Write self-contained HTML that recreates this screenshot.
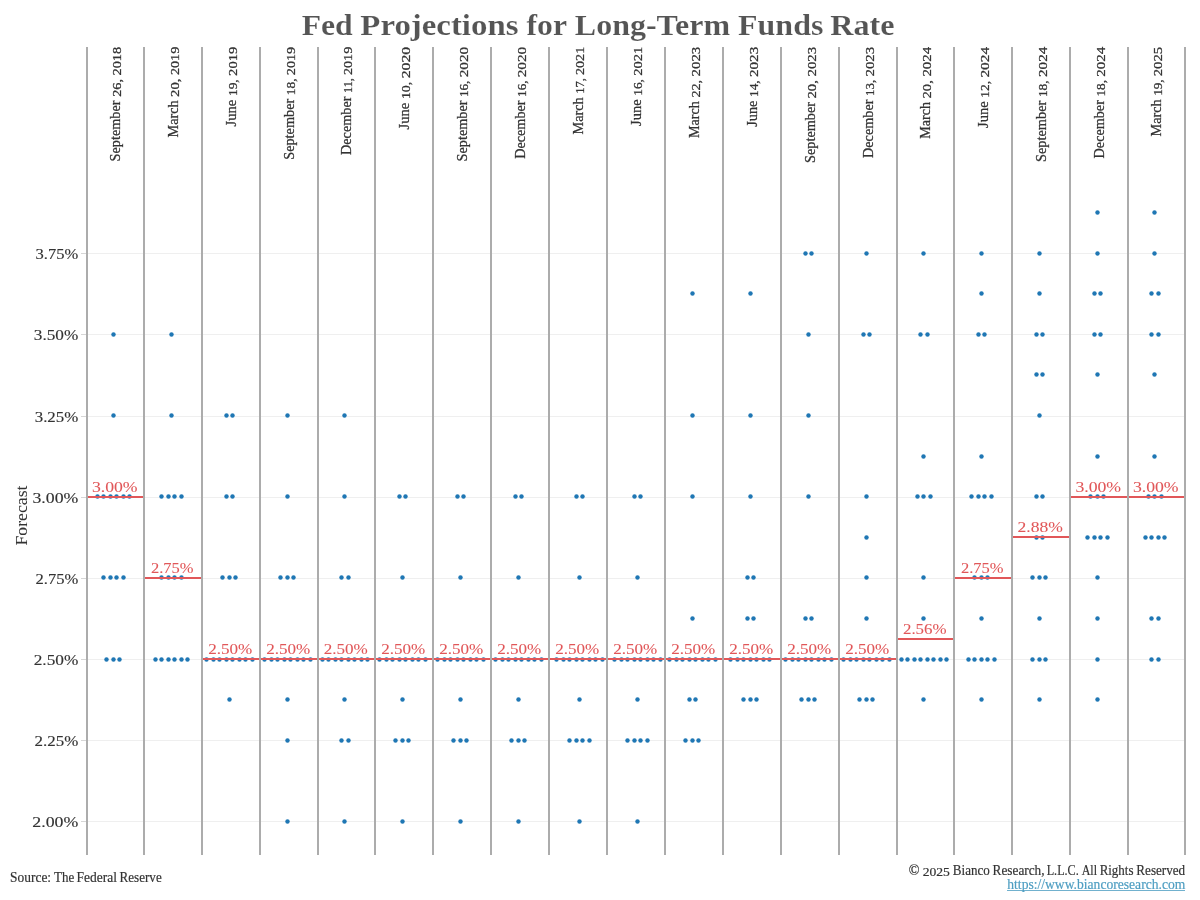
<!DOCTYPE html>
<html lang="en"><head><meta charset="utf-8"><title>Fed Projections for Long-Term Funds Rate</title>
<style>
html,body{margin:0;padding:0;background:#fff;}
body{width:1200px;height:900px;overflow:hidden;}
svg{display:block;}
text{font-family:"Liberation Serif", serif;white-space:pre;}
.hdr{fill:#333333;stroke:#333333;stroke-width:0.28px;}
.ax{fill:#333333;stroke:#333333;stroke-width:0.15px;}
.med{fill:#e15759;stroke:#e15759;stroke-width:0.08px;}
.ft{fill:#333333;stroke:#333333;stroke-width:0.2px;}
</style></head><body>
<svg width="1200" height="900" viewBox="0 0 1200 900">
<rect width="1200" height="900" fill="#fff"/>
<text font-weight="bold" fill="#555555" stroke="#fff" stroke-width="0.14"><tspan x="301.66" y="35.10" font-size="29.00px" textLength="59.03" lengthAdjust="spacingAndGlyphs">Fed </tspan><tspan x="360.34" y="35.10" font-size="29.00px" textLength="166.38" lengthAdjust="spacingAndGlyphs">Projections </tspan><tspan x="526.57" y="35.10" font-size="29.00px" textLength="47.75" lengthAdjust="spacingAndGlyphs">for </tspan><tspan x="574.85" y="35.10" font-size="29.00px" textLength="163.19" lengthAdjust="spacingAndGlyphs">Long-Term </tspan><tspan x="738.05" y="35.10" font-size="29.00px" textLength="93.32" lengthAdjust="spacingAndGlyphs">Funds </tspan><tspan x="830.25" y="35.10" font-size="29.00px" textLength="64.28" lengthAdjust="spacingAndGlyphs">Rate</tspan></text>
<g shape-rendering="crispEdges">
<rect x="88" y="253" width="1096" height="1" fill="#efefef"/>
<rect x="81" y="253" width="5" height="1" fill="#d6d6d6"/>
<rect x="88" y="334" width="1096" height="1" fill="#efefef"/>
<rect x="81" y="334" width="5" height="1" fill="#d6d6d6"/>
<rect x="88" y="416" width="1096" height="1" fill="#efefef"/>
<rect x="81" y="416" width="5" height="1" fill="#d6d6d6"/>
<rect x="88" y="497" width="1096" height="1" fill="#efefef"/>
<rect x="81" y="497" width="5" height="1" fill="#d6d6d6"/>
<rect x="88" y="578" width="1096" height="1" fill="#efefef"/>
<rect x="81" y="578" width="5" height="1" fill="#d6d6d6"/>
<rect x="88" y="659" width="1096" height="1" fill="#efefef"/>
<rect x="81" y="659" width="5" height="1" fill="#d6d6d6"/>
<rect x="88" y="740" width="1096" height="1" fill="#efefef"/>
<rect x="81" y="740" width="5" height="1" fill="#d6d6d6"/>
<rect x="88" y="821" width="1096" height="1" fill="#efefef"/>
<rect x="81" y="821" width="5" height="1" fill="#d6d6d6"/>
</g>
<text class="ax" x="35.60" y="258.70" font-size="15.52px" textLength="42.70" lengthAdjust="spacingAndGlyphs">3.75%</text>
<text class="ax" x="33.82" y="339.70" font-size="15.52px" textLength="44.48" lengthAdjust="spacingAndGlyphs">3.50%</text>
<text class="ax" x="34.70" y="421.70" font-size="15.52px" textLength="43.60" lengthAdjust="spacingAndGlyphs">3.25%</text>
<text class="ax" x="32.44" y="502.70" font-size="15.52px" textLength="45.86" lengthAdjust="spacingAndGlyphs">3.00%</text>
<text class="ax" x="35.47" y="583.70" font-size="15.52px" textLength="42.83" lengthAdjust="spacingAndGlyphs">2.75%</text>
<text class="ax" x="33.69" y="664.70" font-size="15.52px" textLength="44.61" lengthAdjust="spacingAndGlyphs">2.50%</text>
<text class="ax" x="34.57" y="745.70" font-size="15.52px" textLength="43.73" lengthAdjust="spacingAndGlyphs">2.25%</text>
<text class="ax" x="32.32" y="826.70" font-size="15.52px" textLength="45.98" lengthAdjust="spacingAndGlyphs">2.00%</text>
<text class="ax" style="stroke-width:0.04px" transform="translate(27,515.5) rotate(-90)" font-size="17.5px" text-anchor="middle" textLength="60" lengthAdjust="spacingAndGlyphs">Forecast</text>
<g fill="#1f77b4">
<circle cx="113.5" cy="334.5" r="2.2"/>
<circle cx="113.5" cy="415.5" r="2.2"/>
<circle cx="97.5" cy="496.5" r="2.2"/>
<circle cx="103.5" cy="496.5" r="2.2"/>
<circle cx="110.5" cy="496.5" r="2.2"/>
<circle cx="116.5" cy="496.5" r="2.2"/>
<circle cx="123.5" cy="496.5" r="2.2"/>
<circle cx="129.5" cy="496.5" r="2.2"/>
<circle cx="103.5" cy="577.5" r="2.2"/>
<circle cx="110.5" cy="577.5" r="2.2"/>
<circle cx="116.5" cy="577.5" r="2.2"/>
<circle cx="123.5" cy="577.5" r="2.2"/>
<circle cx="106.5" cy="659.5" r="2.2"/>
<circle cx="113.5" cy="659.5" r="2.2"/>
<circle cx="119.5" cy="659.5" r="2.2"/>
<circle cx="171.5" cy="334.5" r="2.2"/>
<circle cx="171.5" cy="415.5" r="2.2"/>
<circle cx="161.5" cy="496.5" r="2.2"/>
<circle cx="168.5" cy="496.5" r="2.2"/>
<circle cx="174.5" cy="496.5" r="2.2"/>
<circle cx="181.5" cy="496.5" r="2.2"/>
<circle cx="161.5" cy="577.5" r="2.2"/>
<circle cx="168.5" cy="577.5" r="2.2"/>
<circle cx="174.5" cy="577.5" r="2.2"/>
<circle cx="181.5" cy="577.5" r="2.2"/>
<circle cx="155.5" cy="659.5" r="2.2"/>
<circle cx="161.5" cy="659.5" r="2.2"/>
<circle cx="168.5" cy="659.5" r="2.2"/>
<circle cx="174.5" cy="659.5" r="2.2"/>
<circle cx="181.5" cy="659.5" r="2.2"/>
<circle cx="187.5" cy="659.5" r="2.2"/>
<circle cx="226.5" cy="415.5" r="2.2"/>
<circle cx="232.5" cy="415.5" r="2.2"/>
<circle cx="226.5" cy="496.5" r="2.2"/>
<circle cx="232.5" cy="496.5" r="2.2"/>
<circle cx="222.5" cy="577.5" r="2.2"/>
<circle cx="229.5" cy="577.5" r="2.2"/>
<circle cx="235.5" cy="577.5" r="2.2"/>
<circle cx="206.5" cy="659.5" r="2.2"/>
<circle cx="213.5" cy="659.5" r="2.2"/>
<circle cx="219.5" cy="659.5" r="2.2"/>
<circle cx="226.5" cy="659.5" r="2.2"/>
<circle cx="232.5" cy="659.5" r="2.2"/>
<circle cx="239.5" cy="659.5" r="2.2"/>
<circle cx="245.5" cy="659.5" r="2.2"/>
<circle cx="252.5" cy="659.5" r="2.2"/>
<circle cx="229.5" cy="699.5" r="2.2"/>
<circle cx="287.5" cy="415.5" r="2.2"/>
<circle cx="287.5" cy="496.5" r="2.2"/>
<circle cx="280.5" cy="577.5" r="2.2"/>
<circle cx="287.5" cy="577.5" r="2.2"/>
<circle cx="293.5" cy="577.5" r="2.2"/>
<circle cx="264.5" cy="659.5" r="2.2"/>
<circle cx="271.5" cy="659.5" r="2.2"/>
<circle cx="277.5" cy="659.5" r="2.2"/>
<circle cx="284.5" cy="659.5" r="2.2"/>
<circle cx="290.5" cy="659.5" r="2.2"/>
<circle cx="297.5" cy="659.5" r="2.2"/>
<circle cx="303.5" cy="659.5" r="2.2"/>
<circle cx="310.5" cy="659.5" r="2.2"/>
<circle cx="287.5" cy="699.5" r="2.2"/>
<circle cx="287.5" cy="740.5" r="2.2"/>
<circle cx="287.5" cy="821.5" r="2.2"/>
<circle cx="344.5" cy="415.5" r="2.2"/>
<circle cx="344.5" cy="496.5" r="2.2"/>
<circle cx="341.5" cy="577.5" r="2.2"/>
<circle cx="348.5" cy="577.5" r="2.2"/>
<circle cx="322.5" cy="659.5" r="2.2"/>
<circle cx="328.5" cy="659.5" r="2.2"/>
<circle cx="335.5" cy="659.5" r="2.2"/>
<circle cx="341.5" cy="659.5" r="2.2"/>
<circle cx="348.5" cy="659.5" r="2.2"/>
<circle cx="354.5" cy="659.5" r="2.2"/>
<circle cx="361.5" cy="659.5" r="2.2"/>
<circle cx="367.5" cy="659.5" r="2.2"/>
<circle cx="344.5" cy="699.5" r="2.2"/>
<circle cx="341.5" cy="740.5" r="2.2"/>
<circle cx="348.5" cy="740.5" r="2.2"/>
<circle cx="344.5" cy="821.5" r="2.2"/>
<circle cx="399.5" cy="496.5" r="2.2"/>
<circle cx="405.5" cy="496.5" r="2.2"/>
<circle cx="402.5" cy="577.5" r="2.2"/>
<circle cx="379.5" cy="659.5" r="2.2"/>
<circle cx="386.5" cy="659.5" r="2.2"/>
<circle cx="392.5" cy="659.5" r="2.2"/>
<circle cx="399.5" cy="659.5" r="2.2"/>
<circle cx="405.5" cy="659.5" r="2.2"/>
<circle cx="412.5" cy="659.5" r="2.2"/>
<circle cx="418.5" cy="659.5" r="2.2"/>
<circle cx="425.5" cy="659.5" r="2.2"/>
<circle cx="402.5" cy="699.5" r="2.2"/>
<circle cx="395.5" cy="740.5" r="2.2"/>
<circle cx="402.5" cy="740.5" r="2.2"/>
<circle cx="408.5" cy="740.5" r="2.2"/>
<circle cx="402.5" cy="821.5" r="2.2"/>
<circle cx="457.5" cy="496.5" r="2.2"/>
<circle cx="463.5" cy="496.5" r="2.2"/>
<circle cx="460.5" cy="577.5" r="2.2"/>
<circle cx="437.5" cy="659.5" r="2.2"/>
<circle cx="444.5" cy="659.5" r="2.2"/>
<circle cx="450.5" cy="659.5" r="2.2"/>
<circle cx="457.5" cy="659.5" r="2.2"/>
<circle cx="463.5" cy="659.5" r="2.2"/>
<circle cx="470.5" cy="659.5" r="2.2"/>
<circle cx="476.5" cy="659.5" r="2.2"/>
<circle cx="483.5" cy="659.5" r="2.2"/>
<circle cx="460.5" cy="699.5" r="2.2"/>
<circle cx="453.5" cy="740.5" r="2.2"/>
<circle cx="460.5" cy="740.5" r="2.2"/>
<circle cx="466.5" cy="740.5" r="2.2"/>
<circle cx="460.5" cy="821.5" r="2.2"/>
<circle cx="515.5" cy="496.5" r="2.2"/>
<circle cx="521.5" cy="496.5" r="2.2"/>
<circle cx="518.5" cy="577.5" r="2.2"/>
<circle cx="495.5" cy="659.5" r="2.2"/>
<circle cx="502.5" cy="659.5" r="2.2"/>
<circle cx="508.5" cy="659.5" r="2.2"/>
<circle cx="515.5" cy="659.5" r="2.2"/>
<circle cx="521.5" cy="659.5" r="2.2"/>
<circle cx="528.5" cy="659.5" r="2.2"/>
<circle cx="534.5" cy="659.5" r="2.2"/>
<circle cx="541.5" cy="659.5" r="2.2"/>
<circle cx="518.5" cy="699.5" r="2.2"/>
<circle cx="511.5" cy="740.5" r="2.2"/>
<circle cx="518.5" cy="740.5" r="2.2"/>
<circle cx="524.5" cy="740.5" r="2.2"/>
<circle cx="518.5" cy="821.5" r="2.2"/>
<circle cx="576.5" cy="496.5" r="2.2"/>
<circle cx="582.5" cy="496.5" r="2.2"/>
<circle cx="579.5" cy="577.5" r="2.2"/>
<circle cx="556.5" cy="659.5" r="2.2"/>
<circle cx="563.5" cy="659.5" r="2.2"/>
<circle cx="569.5" cy="659.5" r="2.2"/>
<circle cx="576.5" cy="659.5" r="2.2"/>
<circle cx="582.5" cy="659.5" r="2.2"/>
<circle cx="589.5" cy="659.5" r="2.2"/>
<circle cx="595.5" cy="659.5" r="2.2"/>
<circle cx="602.5" cy="659.5" r="2.2"/>
<circle cx="579.5" cy="699.5" r="2.2"/>
<circle cx="569.5" cy="740.5" r="2.2"/>
<circle cx="576.5" cy="740.5" r="2.2"/>
<circle cx="582.5" cy="740.5" r="2.2"/>
<circle cx="589.5" cy="740.5" r="2.2"/>
<circle cx="579.5" cy="821.5" r="2.2"/>
<circle cx="634.5" cy="496.5" r="2.2"/>
<circle cx="640.5" cy="496.5" r="2.2"/>
<circle cx="637.5" cy="577.5" r="2.2"/>
<circle cx="614.5" cy="659.5" r="2.2"/>
<circle cx="621.5" cy="659.5" r="2.2"/>
<circle cx="627.5" cy="659.5" r="2.2"/>
<circle cx="634.5" cy="659.5" r="2.2"/>
<circle cx="640.5" cy="659.5" r="2.2"/>
<circle cx="647.5" cy="659.5" r="2.2"/>
<circle cx="653.5" cy="659.5" r="2.2"/>
<circle cx="660.5" cy="659.5" r="2.2"/>
<circle cx="637.5" cy="699.5" r="2.2"/>
<circle cx="627.5" cy="740.5" r="2.2"/>
<circle cx="634.5" cy="740.5" r="2.2"/>
<circle cx="640.5" cy="740.5" r="2.2"/>
<circle cx="647.5" cy="740.5" r="2.2"/>
<circle cx="637.5" cy="821.5" r="2.2"/>
<circle cx="692.5" cy="293.5" r="2.2"/>
<circle cx="692.5" cy="415.5" r="2.2"/>
<circle cx="692.5" cy="496.5" r="2.2"/>
<circle cx="692.5" cy="618.5" r="2.2"/>
<circle cx="669.5" cy="659.5" r="2.2"/>
<circle cx="676.5" cy="659.5" r="2.2"/>
<circle cx="682.5" cy="659.5" r="2.2"/>
<circle cx="689.5" cy="659.5" r="2.2"/>
<circle cx="695.5" cy="659.5" r="2.2"/>
<circle cx="702.5" cy="659.5" r="2.2"/>
<circle cx="708.5" cy="659.5" r="2.2"/>
<circle cx="715.5" cy="659.5" r="2.2"/>
<circle cx="689.5" cy="699.5" r="2.2"/>
<circle cx="695.5" cy="699.5" r="2.2"/>
<circle cx="685.5" cy="740.5" r="2.2"/>
<circle cx="692.5" cy="740.5" r="2.2"/>
<circle cx="698.5" cy="740.5" r="2.2"/>
<circle cx="750.5" cy="293.5" r="2.2"/>
<circle cx="750.5" cy="415.5" r="2.2"/>
<circle cx="750.5" cy="496.5" r="2.2"/>
<circle cx="747.5" cy="577.5" r="2.2"/>
<circle cx="753.5" cy="577.5" r="2.2"/>
<circle cx="747.5" cy="618.5" r="2.2"/>
<circle cx="753.5" cy="618.5" r="2.2"/>
<circle cx="730.5" cy="659.5" r="2.2"/>
<circle cx="737.5" cy="659.5" r="2.2"/>
<circle cx="743.5" cy="659.5" r="2.2"/>
<circle cx="750.5" cy="659.5" r="2.2"/>
<circle cx="756.5" cy="659.5" r="2.2"/>
<circle cx="763.5" cy="659.5" r="2.2"/>
<circle cx="769.5" cy="659.5" r="2.2"/>
<circle cx="743.5" cy="699.5" r="2.2"/>
<circle cx="750.5" cy="699.5" r="2.2"/>
<circle cx="756.5" cy="699.5" r="2.2"/>
<circle cx="805.5" cy="253.5" r="2.2"/>
<circle cx="811.5" cy="253.5" r="2.2"/>
<circle cx="808.5" cy="334.5" r="2.2"/>
<circle cx="808.5" cy="415.5" r="2.2"/>
<circle cx="808.5" cy="496.5" r="2.2"/>
<circle cx="805.5" cy="618.5" r="2.2"/>
<circle cx="811.5" cy="618.5" r="2.2"/>
<circle cx="785.5" cy="659.5" r="2.2"/>
<circle cx="792.5" cy="659.5" r="2.2"/>
<circle cx="798.5" cy="659.5" r="2.2"/>
<circle cx="805.5" cy="659.5" r="2.2"/>
<circle cx="811.5" cy="659.5" r="2.2"/>
<circle cx="818.5" cy="659.5" r="2.2"/>
<circle cx="824.5" cy="659.5" r="2.2"/>
<circle cx="831.5" cy="659.5" r="2.2"/>
<circle cx="801.5" cy="699.5" r="2.2"/>
<circle cx="808.5" cy="699.5" r="2.2"/>
<circle cx="814.5" cy="699.5" r="2.2"/>
<circle cx="866.5" cy="253.5" r="2.2"/>
<circle cx="863.5" cy="334.5" r="2.2"/>
<circle cx="869.5" cy="334.5" r="2.2"/>
<circle cx="866.5" cy="496.5" r="2.2"/>
<circle cx="866.5" cy="537.5" r="2.2"/>
<circle cx="866.5" cy="577.5" r="2.2"/>
<circle cx="866.5" cy="618.5" r="2.2"/>
<circle cx="843.5" cy="659.5" r="2.2"/>
<circle cx="850.5" cy="659.5" r="2.2"/>
<circle cx="856.5" cy="659.5" r="2.2"/>
<circle cx="863.5" cy="659.5" r="2.2"/>
<circle cx="869.5" cy="659.5" r="2.2"/>
<circle cx="876.5" cy="659.5" r="2.2"/>
<circle cx="882.5" cy="659.5" r="2.2"/>
<circle cx="889.5" cy="659.5" r="2.2"/>
<circle cx="859.5" cy="699.5" r="2.2"/>
<circle cx="866.5" cy="699.5" r="2.2"/>
<circle cx="872.5" cy="699.5" r="2.2"/>
<circle cx="923.5" cy="253.5" r="2.2"/>
<circle cx="920.5" cy="334.5" r="2.2"/>
<circle cx="927.5" cy="334.5" r="2.2"/>
<circle cx="923.5" cy="456.5" r="2.2"/>
<circle cx="917.5" cy="496.5" r="2.2"/>
<circle cx="923.5" cy="496.5" r="2.2"/>
<circle cx="930.5" cy="496.5" r="2.2"/>
<circle cx="923.5" cy="577.5" r="2.2"/>
<circle cx="923.5" cy="618.5" r="2.2"/>
<circle cx="901.5" cy="659.5" r="2.2"/>
<circle cx="907.5" cy="659.5" r="2.2"/>
<circle cx="914.5" cy="659.5" r="2.2"/>
<circle cx="920.5" cy="659.5" r="2.2"/>
<circle cx="927.5" cy="659.5" r="2.2"/>
<circle cx="933.5" cy="659.5" r="2.2"/>
<circle cx="940.5" cy="659.5" r="2.2"/>
<circle cx="946.5" cy="659.5" r="2.2"/>
<circle cx="923.5" cy="699.5" r="2.2"/>
<circle cx="981.5" cy="253.5" r="2.2"/>
<circle cx="981.5" cy="293.5" r="2.2"/>
<circle cx="978.5" cy="334.5" r="2.2"/>
<circle cx="984.5" cy="334.5" r="2.2"/>
<circle cx="981.5" cy="456.5" r="2.2"/>
<circle cx="971.5" cy="496.5" r="2.2"/>
<circle cx="978.5" cy="496.5" r="2.2"/>
<circle cx="984.5" cy="496.5" r="2.2"/>
<circle cx="991.5" cy="496.5" r="2.2"/>
<circle cx="974.5" cy="577.5" r="2.2"/>
<circle cx="981.5" cy="577.5" r="2.2"/>
<circle cx="987.5" cy="577.5" r="2.2"/>
<circle cx="981.5" cy="618.5" r="2.2"/>
<circle cx="968.5" cy="659.5" r="2.2"/>
<circle cx="974.5" cy="659.5" r="2.2"/>
<circle cx="981.5" cy="659.5" r="2.2"/>
<circle cx="987.5" cy="659.5" r="2.2"/>
<circle cx="994.5" cy="659.5" r="2.2"/>
<circle cx="981.5" cy="699.5" r="2.2"/>
<circle cx="1039.5" cy="253.5" r="2.2"/>
<circle cx="1039.5" cy="293.5" r="2.2"/>
<circle cx="1036.5" cy="334.5" r="2.2"/>
<circle cx="1042.5" cy="334.5" r="2.2"/>
<circle cx="1036.5" cy="374.5" r="2.2"/>
<circle cx="1042.5" cy="374.5" r="2.2"/>
<circle cx="1039.5" cy="415.5" r="2.2"/>
<circle cx="1036.5" cy="496.5" r="2.2"/>
<circle cx="1042.5" cy="496.5" r="2.2"/>
<circle cx="1036.5" cy="537.5" r="2.2"/>
<circle cx="1042.5" cy="537.5" r="2.2"/>
<circle cx="1032.5" cy="577.5" r="2.2"/>
<circle cx="1039.5" cy="577.5" r="2.2"/>
<circle cx="1045.5" cy="577.5" r="2.2"/>
<circle cx="1039.5" cy="618.5" r="2.2"/>
<circle cx="1032.5" cy="659.5" r="2.2"/>
<circle cx="1039.5" cy="659.5" r="2.2"/>
<circle cx="1045.5" cy="659.5" r="2.2"/>
<circle cx="1039.5" cy="699.5" r="2.2"/>
<circle cx="1097.5" cy="212.5" r="2.2"/>
<circle cx="1097.5" cy="253.5" r="2.2"/>
<circle cx="1094.5" cy="293.5" r="2.2"/>
<circle cx="1100.5" cy="293.5" r="2.2"/>
<circle cx="1094.5" cy="334.5" r="2.2"/>
<circle cx="1100.5" cy="334.5" r="2.2"/>
<circle cx="1097.5" cy="374.5" r="2.2"/>
<circle cx="1097.5" cy="456.5" r="2.2"/>
<circle cx="1090.5" cy="496.5" r="2.2"/>
<circle cx="1097.5" cy="496.5" r="2.2"/>
<circle cx="1103.5" cy="496.5" r="2.2"/>
<circle cx="1087.5" cy="537.5" r="2.2"/>
<circle cx="1094.5" cy="537.5" r="2.2"/>
<circle cx="1100.5" cy="537.5" r="2.2"/>
<circle cx="1107.5" cy="537.5" r="2.2"/>
<circle cx="1097.5" cy="577.5" r="2.2"/>
<circle cx="1097.5" cy="618.5" r="2.2"/>
<circle cx="1097.5" cy="659.5" r="2.2"/>
<circle cx="1097.5" cy="699.5" r="2.2"/>
<circle cx="1154.5" cy="212.5" r="2.2"/>
<circle cx="1154.5" cy="253.5" r="2.2"/>
<circle cx="1151.5" cy="293.5" r="2.2"/>
<circle cx="1158.5" cy="293.5" r="2.2"/>
<circle cx="1151.5" cy="334.5" r="2.2"/>
<circle cx="1158.5" cy="334.5" r="2.2"/>
<circle cx="1154.5" cy="374.5" r="2.2"/>
<circle cx="1154.5" cy="456.5" r="2.2"/>
<circle cx="1148.5" cy="496.5" r="2.2"/>
<circle cx="1154.5" cy="496.5" r="2.2"/>
<circle cx="1161.5" cy="496.5" r="2.2"/>
<circle cx="1145.5" cy="537.5" r="2.2"/>
<circle cx="1151.5" cy="537.5" r="2.2"/>
<circle cx="1158.5" cy="537.5" r="2.2"/>
<circle cx="1164.5" cy="537.5" r="2.2"/>
<circle cx="1151.5" cy="618.5" r="2.2"/>
<circle cx="1158.5" cy="618.5" r="2.2"/>
<circle cx="1151.5" cy="659.5" r="2.2"/>
<circle cx="1158.5" cy="659.5" r="2.2"/>
</g>
<g shape-rendering="crispEdges" fill="#e15759">
<rect x="88" y="496" width="55" height="2"/>
<rect x="145" y="577" width="56" height="2"/>
<rect x="203" y="658" width="56" height="2"/>
<rect x="261" y="658" width="56" height="2"/>
<rect x="319" y="658" width="55" height="2"/>
<rect x="376" y="658" width="56" height="2"/>
<rect x="434" y="658" width="56" height="2"/>
<rect x="492" y="658" width="56" height="2"/>
<rect x="550" y="658" width="56" height="2"/>
<rect x="608" y="658" width="56" height="2"/>
<rect x="666" y="658" width="56" height="2"/>
<rect x="724" y="658" width="56" height="2"/>
<rect x="782" y="658" width="56" height="2"/>
<rect x="840" y="658" width="56" height="2"/>
<rect x="898" y="638" width="55" height="2"/>
<rect x="955" y="577" width="56" height="2"/>
<rect x="1013" y="536" width="56" height="2"/>
<rect x="1071" y="496" width="56" height="2"/>
<rect x="1129" y="496" width="55" height="2"/>
</g>
<text class="med" x="91.90" y="491.70" font-size="15.52px" textLength="45.70" lengthAdjust="spacingAndGlyphs">3.00%</text>
<text class="med" x="150.95" y="572.70" font-size="15.52px" textLength="42.60" lengthAdjust="spacingAndGlyphs">2.75%</text>
<text class="med" x="208.20" y="653.70" font-size="15.52px" textLength="44.10" lengthAdjust="spacingAndGlyphs">2.50%</text>
<text class="med" x="266.20" y="653.70" font-size="15.52px" textLength="44.10" lengthAdjust="spacingAndGlyphs">2.50%</text>
<text class="med" x="323.70" y="653.70" font-size="15.52px" textLength="44.10" lengthAdjust="spacingAndGlyphs">2.50%</text>
<text class="med" x="381.20" y="653.70" font-size="15.52px" textLength="44.10" lengthAdjust="spacingAndGlyphs">2.50%</text>
<text class="med" x="439.20" y="653.70" font-size="15.52px" textLength="44.10" lengthAdjust="spacingAndGlyphs">2.50%</text>
<text class="med" x="497.20" y="653.70" font-size="15.52px" textLength="44.10" lengthAdjust="spacingAndGlyphs">2.50%</text>
<text class="med" x="555.20" y="653.70" font-size="15.52px" textLength="44.10" lengthAdjust="spacingAndGlyphs">2.50%</text>
<text class="med" x="613.20" y="653.70" font-size="15.52px" textLength="44.10" lengthAdjust="spacingAndGlyphs">2.50%</text>
<text class="med" x="671.20" y="653.70" font-size="15.52px" textLength="44.10" lengthAdjust="spacingAndGlyphs">2.50%</text>
<text class="med" x="729.20" y="653.70" font-size="15.52px" textLength="44.10" lengthAdjust="spacingAndGlyphs">2.50%</text>
<text class="med" x="787.20" y="653.70" font-size="15.52px" textLength="44.10" lengthAdjust="spacingAndGlyphs">2.50%</text>
<text class="med" x="845.20" y="653.70" font-size="15.52px" textLength="44.10" lengthAdjust="spacingAndGlyphs">2.50%</text>
<text class="med" x="902.95" y="633.70" font-size="15.52px" textLength="43.60" lengthAdjust="spacingAndGlyphs">2.56%</text>
<text class="med" x="960.95" y="572.70" font-size="15.52px" textLength="42.60" lengthAdjust="spacingAndGlyphs">2.75%</text>
<text class="med" x="1017.60" y="531.70" font-size="15.52px" textLength="45.30" lengthAdjust="spacingAndGlyphs">2.88%</text>
<text class="med" x="1075.40" y="491.70" font-size="15.52px" textLength="45.70" lengthAdjust="spacingAndGlyphs">3.00%</text>
<text class="med" x="1132.90" y="491.70" font-size="15.52px" textLength="45.70" lengthAdjust="spacingAndGlyphs">3.00%</text>
<g shape-rendering="crispEdges" fill="#acacac">
<rect x="86" y="47" width="2" height="808"/>
<rect x="143" y="47" width="2" height="808"/>
<rect x="201" y="47" width="2" height="808"/>
<rect x="259" y="47" width="2" height="808"/>
<rect x="317" y="47" width="2" height="808"/>
<rect x="374" y="47" width="2" height="808"/>
<rect x="432" y="47" width="2" height="808"/>
<rect x="490" y="47" width="2" height="808"/>
<rect x="548" y="47" width="2" height="808"/>
<rect x="606" y="47" width="2" height="808"/>
<rect x="664" y="47" width="2" height="808"/>
<rect x="722" y="47" width="2" height="808"/>
<rect x="780" y="47" width="2" height="808"/>
<rect x="838" y="47" width="2" height="808"/>
<rect x="896" y="47" width="2" height="808"/>
<rect x="953" y="47" width="2" height="808"/>
<rect x="1011" y="47" width="2" height="808"/>
<rect x="1069" y="47" width="2" height="808"/>
<rect x="1127" y="47" width="2" height="808"/>
<rect x="1184" y="47" width="2" height="808"/>
</g>
<text class="hdr" transform="translate(120.1,46.8) rotate(-90)"><tspan x="-114.60" y="0.00" font-size="15.15px" textLength="64.55" lengthAdjust="spacingAndGlyphs">September </tspan><tspan x="-50.05" y="0.87" font-size="13.34px" textLength="21.36" lengthAdjust="spacingAndGlyphs">26, </tspan><tspan x="-28.69" y="0.87" font-size="13.34px" textLength="28.69" lengthAdjust="spacingAndGlyphs">2018</tspan></text>
<text class="hdr" transform="translate(178.1,46.8) rotate(-90)"><tspan x="-90.60" y="0.00" font-size="15.15px" textLength="40.49" lengthAdjust="spacingAndGlyphs">March </tspan><tspan x="-50.11" y="0.87" font-size="13.34px" textLength="21.91" lengthAdjust="spacingAndGlyphs">20, </tspan><tspan x="-28.21" y="0.87" font-size="13.34px" textLength="28.21" lengthAdjust="spacingAndGlyphs">2019</tspan></text>
<text class="hdr" transform="translate(236.1,46.8) rotate(-90)"><tspan x="-79.60" y="0.00" font-size="15.15px" textLength="30.29" lengthAdjust="spacingAndGlyphs">June </tspan><tspan x="-49.31" y="0.87" font-size="13.34px" textLength="20.21" lengthAdjust="spacingAndGlyphs">19, </tspan><tspan x="-29.10" y="0.87" font-size="13.34px" textLength="29.10" lengthAdjust="spacingAndGlyphs">2019</tspan></text>
<text class="hdr" transform="translate(294.1,46.8) rotate(-90)"><tspan x="-113.00" y="0.00" font-size="15.15px" textLength="64.61" lengthAdjust="spacingAndGlyphs">September </tspan><tspan x="-48.39" y="0.87" font-size="13.34px" textLength="20.07" lengthAdjust="spacingAndGlyphs">18, </tspan><tspan x="-28.33" y="0.87" font-size="13.34px" textLength="28.33" lengthAdjust="spacingAndGlyphs">2019</tspan></text>
<text class="hdr" transform="translate(351.1,46.8) rotate(-90)"><tspan x="-108.20" y="0.00" font-size="15.15px" textLength="62.08" lengthAdjust="spacingAndGlyphs">December </tspan><tspan x="-46.12" y="0.87" font-size="13.34px" textLength="17.85" lengthAdjust="spacingAndGlyphs">11, </tspan><tspan x="-28.27" y="0.87" font-size="13.34px" textLength="28.27" lengthAdjust="spacingAndGlyphs">2019</tspan></text>
<text class="hdr" transform="translate(409.1,46.8) rotate(-90)"><tspan x="-82.60" y="0.00" font-size="15.15px" textLength="30.28" lengthAdjust="spacingAndGlyphs">June </tspan><tspan x="-52.32" y="0.87" font-size="13.34px" textLength="20.85" lengthAdjust="spacingAndGlyphs">10, </tspan><tspan x="-31.47" y="0.87" font-size="13.34px" textLength="31.47" lengthAdjust="spacingAndGlyphs">2020</tspan></text>
<text class="hdr" transform="translate(467.1,46.8) rotate(-90)"><tspan x="-114.60" y="0.00" font-size="15.15px" textLength="64.42" lengthAdjust="spacingAndGlyphs">September </tspan><tspan x="-50.18" y="0.87" font-size="13.34px" textLength="19.62" lengthAdjust="spacingAndGlyphs">16, </tspan><tspan x="-30.56" y="0.87" font-size="13.34px" textLength="30.56" lengthAdjust="spacingAndGlyphs">2020</tspan></text>
<text class="hdr" transform="translate(525.1,46.8) rotate(-90)"><tspan x="-112.00" y="0.00" font-size="15.15px" textLength="61.91" lengthAdjust="spacingAndGlyphs">December </tspan><tspan x="-50.09" y="0.87" font-size="13.34px" textLength="19.59" lengthAdjust="spacingAndGlyphs">16, </tspan><tspan x="-30.51" y="0.87" font-size="13.34px" textLength="30.51" lengthAdjust="spacingAndGlyphs">2020</tspan></text>
<text class="hdr" transform="translate(583.1,46.8) rotate(-90)"><tspan x="-87.60" y="0.00" font-size="15.15px" textLength="40.59" lengthAdjust="spacingAndGlyphs">March </tspan><tspan x="-47.01" y="0.87" font-size="13.34px" textLength="18.82" lengthAdjust="spacingAndGlyphs">17, </tspan><tspan x="-28.19" y="0.87" font-size="13.34px" textLength="28.19" lengthAdjust="spacingAndGlyphs">2021</tspan></text>
<text class="hdr" transform="translate(641.1,46.8) rotate(-90)"><tspan x="-79.20" y="0.00" font-size="15.15px" textLength="30.18" lengthAdjust="spacingAndGlyphs">June </tspan><tspan x="-49.02" y="0.87" font-size="13.34px" textLength="20.13" lengthAdjust="spacingAndGlyphs">16, </tspan><tspan x="-28.89" y="0.87" font-size="13.34px" textLength="28.89" lengthAdjust="spacingAndGlyphs">2021</tspan></text>
<text class="hdr" transform="translate(699.1,46.8) rotate(-90)"><tspan x="-91.20" y="0.00" font-size="15.15px" textLength="40.41" lengthAdjust="spacingAndGlyphs">March </tspan><tspan x="-50.79" y="0.87" font-size="13.34px" textLength="21.15" lengthAdjust="spacingAndGlyphs">22, </tspan><tspan x="-29.64" y="0.87" font-size="13.34px" textLength="29.64" lengthAdjust="spacingAndGlyphs">2023</tspan></text>
<text class="hdr" transform="translate(757.1,46.8) rotate(-90)"><tspan x="-80.00" y="0.00" font-size="15.15px" textLength="29.87" lengthAdjust="spacingAndGlyphs">June </tspan><tspan x="-50.13" y="0.87" font-size="13.34px" textLength="19.92" lengthAdjust="spacingAndGlyphs">14, </tspan><tspan x="-30.21" y="0.87" font-size="13.34px" textLength="30.21" lengthAdjust="spacingAndGlyphs">2023</tspan></text>
<text class="hdr" transform="translate(815.1,46.8) rotate(-90)"><tspan x="-116.10" y="0.00" font-size="15.15px" textLength="64.42" lengthAdjust="spacingAndGlyphs">September </tspan><tspan x="-51.68" y="0.87" font-size="13.34px" textLength="21.94" lengthAdjust="spacingAndGlyphs">20, </tspan><tspan x="-29.74" y="0.87" font-size="13.34px" textLength="29.74" lengthAdjust="spacingAndGlyphs">2023</tspan></text>
<text class="hdr" transform="translate(873.1,46.8) rotate(-90)"><tspan x="-111.20" y="0.00" font-size="15.15px" textLength="62.03" lengthAdjust="spacingAndGlyphs">December </tspan><tspan x="-49.17" y="0.87" font-size="13.34px" textLength="19.43" lengthAdjust="spacingAndGlyphs">13, </tspan><tspan x="-29.75" y="0.87" font-size="13.34px" textLength="29.75" lengthAdjust="spacingAndGlyphs">2023</tspan></text>
<text class="hdr" transform="translate(930.1,46.8) rotate(-90)"><tspan x="-92.00" y="0.00" font-size="15.15px" textLength="40.36" lengthAdjust="spacingAndGlyphs">March </tspan><tspan x="-51.64" y="0.87" font-size="13.34px" textLength="21.84" lengthAdjust="spacingAndGlyphs">20, </tspan><tspan x="-29.79" y="0.87" font-size="13.34px" textLength="29.79" lengthAdjust="spacingAndGlyphs">2024</tspan></text>
<text class="hdr" transform="translate(988.1,46.8) rotate(-90)"><tspan x="-81.20" y="0.00" font-size="15.15px" textLength="30.28" lengthAdjust="spacingAndGlyphs">June </tspan><tspan x="-50.92" y="0.87" font-size="13.34px" textLength="20.11" lengthAdjust="spacingAndGlyphs">12, </tspan><tspan x="-30.81" y="0.87" font-size="13.34px" textLength="30.81" lengthAdjust="spacingAndGlyphs">2024</tspan></text>
<text class="hdr" transform="translate(1046.1,46.8) rotate(-90)"><tspan x="-115.20" y="0.00" font-size="15.15px" textLength="64.90" lengthAdjust="spacingAndGlyphs">September </tspan><tspan x="-50.30" y="0.87" font-size="13.34px" textLength="20.16" lengthAdjust="spacingAndGlyphs">18, </tspan><tspan x="-30.15" y="0.87" font-size="13.34px" textLength="30.15" lengthAdjust="spacingAndGlyphs">2024</tspan></text>
<text class="hdr" transform="translate(1104.1,46.8) rotate(-90)"><tspan x="-111.60" y="0.00" font-size="15.15px" textLength="61.82" lengthAdjust="spacingAndGlyphs">December </tspan><tspan x="-49.78" y="0.87" font-size="13.34px" textLength="19.95" lengthAdjust="spacingAndGlyphs">18, </tspan><tspan x="-29.83" y="0.87" font-size="13.34px" textLength="29.83" lengthAdjust="spacingAndGlyphs">2024</tspan></text>
<text class="hdr" transform="translate(1161.1,46.8) rotate(-90)"><tspan x="-89.60" y="0.00" font-size="15.15px" textLength="40.54" lengthAdjust="spacingAndGlyphs">March </tspan><tspan x="-49.06" y="0.87" font-size="13.34px" textLength="19.62" lengthAdjust="spacingAndGlyphs">19, </tspan><tspan x="-29.44" y="0.87" font-size="13.34px" textLength="29.44" lengthAdjust="spacingAndGlyphs">2025</tspan></text>
<text class="ft"><tspan x="10.10" y="882.30" font-size="15.20px" textLength="44.34" lengthAdjust="spacingAndGlyphs">Source: </tspan><tspan x="54.02" y="882.30" font-size="15.20px" textLength="23.43" lengthAdjust="spacingAndGlyphs">The </tspan><tspan x="76.61" y="882.30" font-size="15.20px" textLength="43.78" lengthAdjust="spacingAndGlyphs">Federal </tspan><tspan x="119.62" y="882.30" font-size="15.20px" textLength="42.08" lengthAdjust="spacingAndGlyphs">Reserve</tspan></text>
<text class="ft"><tspan x="908.65" y="875.00" font-size="15.20px" textLength="14.22" lengthAdjust="spacingAndGlyphs">© </tspan><tspan x="922.70" y="875.87" font-size="13.38px" textLength="30.58" lengthAdjust="spacingAndGlyphs">2025 </tspan><tspan x="952.87" y="875.00" font-size="15.20px" textLength="40.13" lengthAdjust="spacingAndGlyphs">Bianco </tspan><tspan x="992.62" y="875.00" font-size="15.20px" textLength="55.29" lengthAdjust="spacingAndGlyphs">Research, </tspan><tspan x="1046.65" y="875.00" font-size="15.20px" textLength="35.20" lengthAdjust="spacingAndGlyphs">L.L.C. </tspan><tspan x="1081.63" y="875.00" font-size="15.20px" textLength="18.36" lengthAdjust="spacingAndGlyphs">All </tspan><tspan x="1099.63" y="875.00" font-size="15.20px" textLength="37.08" lengthAdjust="spacingAndGlyphs">Rights </tspan><tspan x="1136.37" y="875.00" font-size="15.20px" textLength="48.79" lengthAdjust="spacingAndGlyphs">Reserved</tspan></text>
<text x="1185.3" y="889.3" font-size="15.2px" text-anchor="end" textLength="178" lengthAdjust="spacingAndGlyphs" fill="#4e9ec2" stroke="#4e9ec2" stroke-width="0.2">https://www.biancoresearch.com</text>
<rect x="1007" y="890" width="178" height="1" fill="#4e9ec2" fill-opacity="0.8" shape-rendering="crispEdges"/>
</svg>
</body></html>
